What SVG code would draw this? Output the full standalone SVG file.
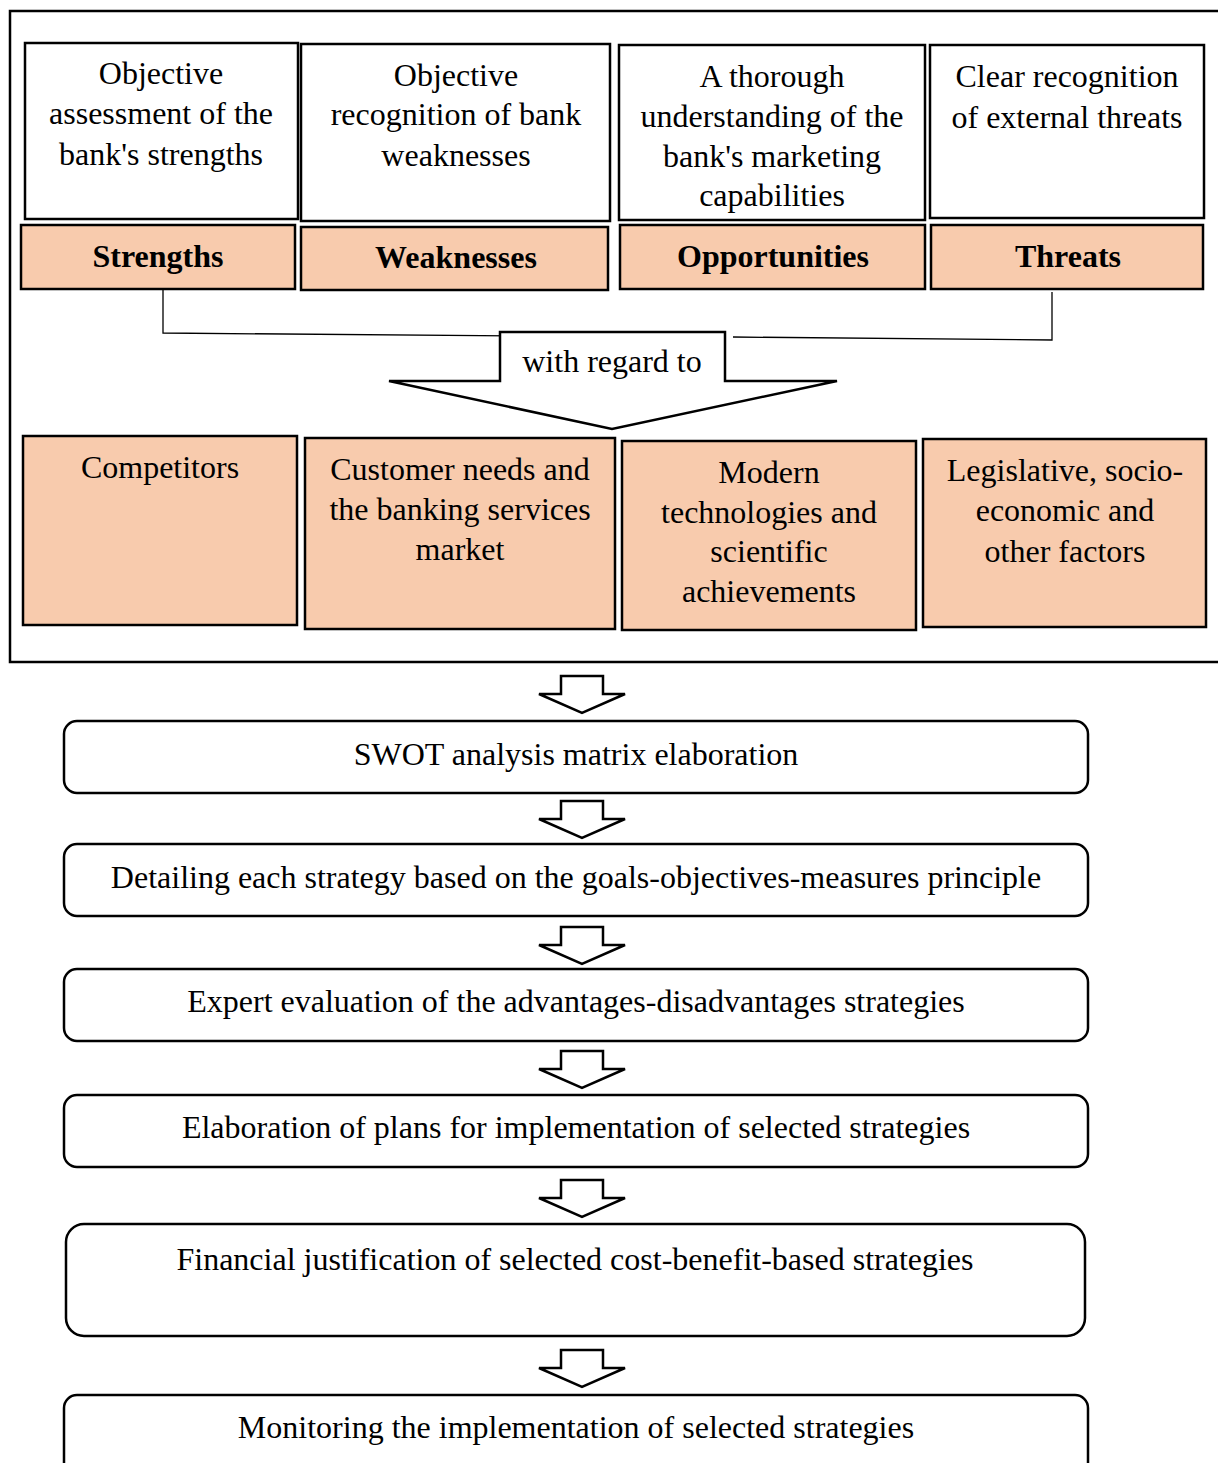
<svg xmlns="http://www.w3.org/2000/svg" width="1218" height="1463" viewBox="0 0 1218 1463">
<style>
text{font-family:"Liberation Serif","Times New Roman",serif;font-size:32px;fill:#000;text-anchor:middle}
.b{font-weight:bold}
.w{fill:#fff;stroke:#000;stroke-width:2.5}
.p{fill:#F8CBAD;stroke:#000;stroke-width:2.5}
.r{fill:#fff;stroke:#000;stroke-width:2.5}
.ln{fill:none;stroke:#000;stroke-width:1.3}
.ar{fill:#fff;stroke:#000;stroke-width:2.5;stroke-linejoin:miter}
</style>
<defs>
<path id="sa" d="M-21,0 H21 V18 H43 L0,37 L-43,18 H-21 Z"/>
</defs>
<rect x="0" y="0" width="1218" height="1463" fill="#fff"/>
<rect id="frame" x="10" y="11" width="1215" height="651" fill="none" stroke="#000" stroke-width="2.5"/>

<g id="connectors">
<path class="ln" d="M163,290 V333 L521,336"/>
<path class="ln" d="M733,337 L1052,340 V292"/>
<path class="ar" d="M500,332 H725 V381 H837 L612,429 L389,381 H500 Z"/>
<use href="#sa" x="582" y="676" class="ar"/>
<use href="#sa" x="582" y="801" class="ar"/>
<use href="#sa" x="582" y="927" class="ar"/>
<use href="#sa" x="582" y="1051" class="ar"/>
<use href="#sa" x="582" y="1180" class="ar"/>
<use href="#sa" x="582" y="1350" class="ar"/>
</g>
<text x="612" y="372">with regard to</text>

<g id="obj-s"><rect class="w" x="25" y="43" width="273" height="176"/>
<text x="161" y="84">Objective</text><text x="161" y="124">assessment of the</text><text x="161" y="165">bank's strengths</text></g>
<g id="obj-w"><rect class="w" x="301" y="44" width="309" height="177"/>
<text x="456" y="86">Objective</text><text x="456" y="125">recognition of bank</text><text x="456" y="166">weaknesses</text></g>
<g id="obj-o"><rect class="w" x="619" y="45" width="306" height="175"/>
<text x="772" y="87">A thorough</text><text x="772" y="127">understanding of the</text><text x="772" y="167">bank's marketing</text><text x="772" y="206">capabilities</text></g>
<g id="obj-t"><rect class="w" x="930" y="45" width="274" height="173"/>
<text x="1067" y="87">Clear recognition</text><text x="1067" y="128">of external threats</text></g>

<g id="lbl-s"><rect class="p" x="21" y="225" width="274" height="64"/><text class="b" x="158" y="267">Strengths</text></g>
<g id="lbl-w"><rect class="p" x="301" y="227" width="307" height="63"/><text class="b" x="456" y="268">Weaknesses</text></g>
<g id="lbl-o"><rect class="p" x="620" y="225" width="305" height="64"/><text class="b" x="773" y="267">Opportunities</text></g>
<g id="lbl-t"><rect class="p" x="931" y="225" width="272" height="64"/><text class="b" x="1068" y="267">Threats</text></g>

<g id="f-comp"><rect class="p" x="23" y="436" width="274" height="189"/><text x="160" y="478">Competitors</text></g>
<g id="f-cust"><rect class="p" x="305" y="438" width="310" height="191"/>
<text x="460" y="480">Customer needs and</text><text x="460" y="520">the banking services</text><text x="460" y="560">market</text></g>
<g id="f-tech"><rect class="p" x="622" y="441" width="294" height="189"/>
<text x="769" y="483">Modern</text><text x="769" y="523">technologies and</text><text x="769" y="562">scientific</text><text x="769" y="602">achievements</text></g>
<g id="f-leg"><rect class="p" x="923" y="439" width="283" height="188"/>
<text x="1065" y="481">Legislative, socio-</text><text x="1065" y="521">economic and</text><text x="1065" y="562">other factors</text></g>

<g id="s1"><rect class="r" x="64" y="721" width="1024" height="72" rx="13"/><text x="576" y="765">SWOT analysis matrix elaboration</text></g>
<g id="s2"><rect class="r" x="64" y="844" width="1024" height="72" rx="13"/><text x="576" y="888">Detailing each strategy based on the goals-objectives-measures principle</text></g>
<g id="s3"><rect class="r" x="64" y="969" width="1024" height="72" rx="13"/><text x="576" y="1012">Expert evaluation of the advantages-disadvantages strategies</text></g>
<g id="s4"><rect class="r" x="64" y="1095" width="1024" height="72" rx="13"/><text x="576" y="1138">Elaboration of plans for implementation of selected strategies</text></g>
<g id="s5"><rect class="r" x="66" y="1224" width="1019" height="112" rx="18"/><text x="575" y="1270">Financial justification of selected cost-benefit-based strategies</text></g>
<g id="s6"><rect class="r" x="64" y="1395" width="1024" height="100" rx="13"/><text x="576" y="1438">Monitoring the implementation of selected strategies</text></g>
</svg>
